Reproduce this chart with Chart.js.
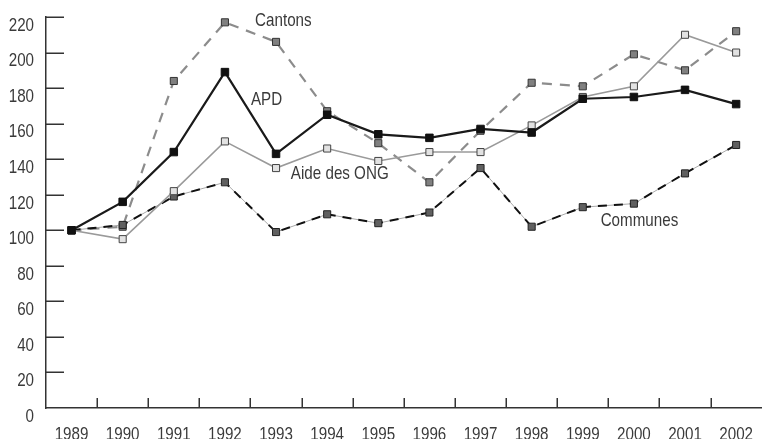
<!DOCTYPE html>
<html>
<head>
<meta charset="utf-8">
<script src="https://cdn.jsdelivr.net/npm/chart.js@4/dist/chart.umd.min.js"></script>
<style>
  html, body { margin: 0; padding: 0; background: #fff; overflow: hidden; }
  #wrap { width: 768px; height: 439px; }
</style>
</head>
<body>
<div id="wrap"><canvas id="c" width="768" height="439"></canvas></div>
<script>
const years = ['1989','1990','1991','1992','1993','1994','1995','1996','1997','1998','1999','2000','2001','2002'];
const apd = [100,116,144,189,143,165,154,152,157,155,174,175,179,171];
const cantons = [100,102,184,217,206,167,149,127,156,183,181,199,190,212];
const ong = [100,95,122,150,135,146,139,144,144,159,175,181,210,200];
const communes = [100,103,119,127,99,109,104,110,135,102,113,115,132,148];
const yTicks = [0,20,40,60,80,100,120,140,160,180,200,220];
const seriesLabels = ['APD','Cantons','Aide des ONG','Communes'];
// annotation anchors in data space: [category index, value]
const annotations = [
  { text: 'Cantons', at: [3.59, 218.6] },
  { text: 'APD', at: [3.51, 174.3] },
  { text: 'Aide des ONG', at: [4.29, 132.4] },
  { text: 'Communes', at: [10.35, 106] }
];

const FONT = '18.5px "Liberation Sans", Arial, sans-serif';
const SQUEEZE = 0.82;
const CAP = 13.3;
const TXT = '#3a3a3a';
const AX = '#333333';

function narrowText(ctx, text, px, baseY, align) {
  ctx.save();
  ctx.translate(px, baseY);
  ctx.scale(SQUEEZE, 1);
  ctx.textAlign = align;
  ctx.textBaseline = 'alphabetic';
  ctx.fillText(text, 0, 0);
  ctx.restore();
}

const innerTicks = {
  id: 'innerTicks',
  beforeDatasetsDraw(chart) {
    const { ctx, chartArea: a, scales: { x, y } } = chart;
    ctx.save();
    ctx.strokeStyle = AX;
    ctx.lineWidth = 1.5;
    ctx.beginPath();
    yTicks.forEach(v => {
      if (v === 0) return;
      const py = Math.round(y.getPixelForValue(v)) + 0.25;
      ctx.moveTo(a.left, py);
      ctx.lineTo(a.left + 18, py);
    });
    for (let i = 1; i < years.length; i++) {
      const px = Math.round((x.getPixelForValue(i - 1) + x.getPixelForValue(i)) / 2) + 0.25;
      ctx.moveTo(px, a.bottom);
      ctx.lineTo(px, a.bottom - 10);
    }
    ctx.stroke();
    ctx.restore();
  },
  afterDraw(chart) {
    const { ctx, chartArea: a, scales: { x, y } } = chart;
    ctx.save();
    ctx.fillStyle = TXT;
    ctx.font = FONT;
    // y tick labels: top of digits aligned with the tick
    yTicks.forEach(v => narrowText(ctx, String(v), a.left - 12, y.getPixelForValue(v) + CAP + 0.5, 'right'));
    // x tick labels
    years.forEach((yr, i) => narrowText(ctx, yr, x.getPixelForValue(i), a.bottom + 19 + CAP, 'center'));
    // annotations (vertically centred on anchor)
    annotations.forEach(an => {
      const px = x.getPixelForValue(0) + an.at[0] * (x.getPixelForValue(1) - x.getPixelForValue(0));
      narrowText(ctx, an.text, px, y.getPixelForValue(an.at[1]) + CAP / 2, 'left');
    });
    ctx.restore();
  }
};

new Chart(document.getElementById('c'), {
  type: 'line',
  data: {
    labels: years,
    datasets: [
      {
        label: seriesLabels[0], data: apd,
        borderColor: '#1a1a1a', borderWidth: 2.2,
        pointStyle: 'rect', pointRadius: 5.3, pointBackgroundColor: '#111', pointBorderColor: '#111', pointBorderWidth: 1,
        tension: 0
      },
      {
        label: seriesLabels[2], data: ong,
        borderColor: '#9a9a9a', borderWidth: 1.6,
        pointStyle: 'rect', pointRadius: 5, pointBackgroundColor: '#e2e2e2', pointBorderColor: '#444', pointBorderWidth: 1,
        tension: 0
      },
      {
        label: seriesLabels[3], data: communes,
        borderColor: '#111', borderWidth: 2, borderDash: [9, 7],
        pointStyle: 'rect', pointRadius: 5, pointBackgroundColor: '#606060', pointBorderColor: '#222', pointBorderWidth: 1,
        tension: 0
      },
      {
        label: seriesLabels[3] + ' base', data: communes,
        borderColor: '#a8a8a8', borderWidth: 1,
        pointRadius: 0,
        tension: 0
      },
      {
        label: seriesLabels[1], data: cantons,
        borderColor: '#8c8c8c', borderWidth: 2.2, borderDash: [10, 8],
        pointStyle: 'rect', pointRadius: 5, pointBackgroundColor: '#808080', pointBorderColor: '#333', pointBorderWidth: 1,
        tension: 0
      }
    ]
  },
  options: {
    responsive: false,
    animation: false,
    events: [],
    layout: { padding: { top: 17, right: 0, left: 0, bottom: 0 } },
    plugins: { legend: { display: false }, tooltip: { enabled: false } },
    scales: {
      x: {
        offset: true,
        grid: { display: false, offset: true },
        border: { display: true, color: AX, width: 1.5 },
        ticks: { display: false },
        afterFit(s) { s.height = 31; }
      },
      y: {
        min: 0, max: 220,
        afterBuildTicks(s) { s.ticks = yTicks.map(v => ({ value: v })); },
        grid: { display: false },
        border: { display: true, color: AX, width: 1.5 },
        ticks: { display: false },
        afterFit(s) { s.width = 46; }
      }
    }
  },
  plugins: [innerTicks]
});
</script>
</body>
</html>
